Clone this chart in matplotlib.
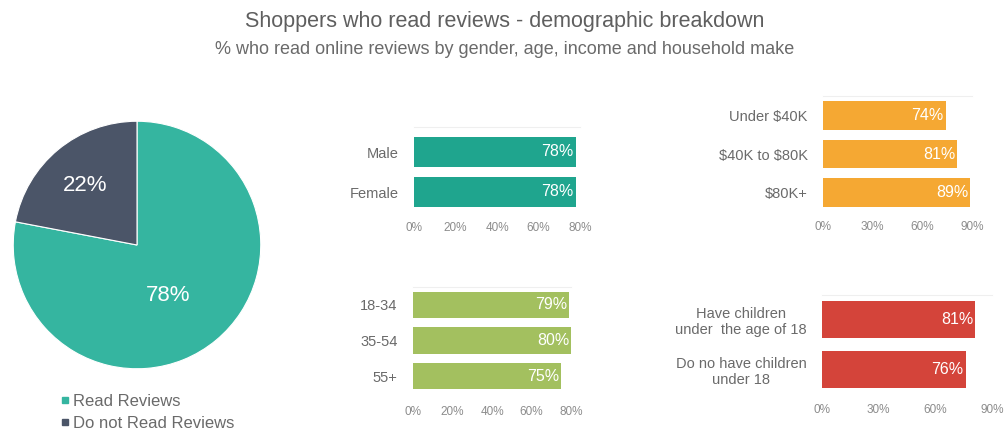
import matplotlib
matplotlib.use("Agg")
import matplotlib.pyplot as plt
from matplotlib.lines import Line2D
from matplotlib.ticker import PercentFormatter

plt.rcParams['font.family'] = ['Liberation Sans', 'DejaVu Sans']

# Data
pie_labels = ["Read Reviews", "Do not Read Reviews"]
pie_values = [78, 22]

gender = ["Male", "Female"]
gender_vals = [78, 78]

age = ["18-34", "35-54", "55+"]
age_vals = [79, 80, 75]

income = ["Under $40K", "$40K to $80K", "$80K+"]
income_vals = [74, 81, 89]

kids = ["Have children\nunder  the age of 18", "Do no have children\nunder 18"]
kids_vals = [81, 76]

W, H = 1005, 430
TXT = "#5f5f5f"
LBL = "#6a6a6a"
TICK = "#8c8c8c"

fig = plt.figure(figsize=(W / 100, H / 100), dpi=100)


def px_axes(left, top, right, bottom):
    return fig.add_axes([left / W, 1 - bottom / H, (right - left) / W, (bottom - top) / H])


fig.text(505 / W, 1 - 22 / H, "Shoppers who read reviews - demographic breakdown",
         ha="center", va="center", fontsize=15.5, color=TXT)
fig.text(505 / W, 1 - 49 / H, "% who read online reviews by gender, age, income and household make",
         ha="center", va="center", fontsize=13, color=LBL)

# pie
pie_colors = ["#35b5a0", "#4b5568"]
ax = px_axes(12, 120, 262, 370)
ax.pie(pie_values, colors=pie_colors, startangle=90, counterclock=False,
       wedgeprops=dict(edgecolor="white", linewidth=0.8))
ax.set_xlim(-1.01, 1.01)
ax.set_ylim(-1.01, 1.01)
ax.set_aspect("equal")
ax.text(-0.42, 0.48, f"{pie_values[1]}%", color="white", fontsize=16, ha="center", va="center")
ax.text(0.25, -0.41, f"{pie_values[0]}%", color="white", fontsize=16, ha="center", va="center")
handles = [Line2D([], [], marker="s", ls="", color=c, markersize=5) for c in pie_colors]
fig.legend(handles, pie_labels, loc="upper left", bbox_to_anchor=(54 / W, 1 - 387 / H),
           frameon=False, fontsize=12, handlelength=0.5, handletextpad=0.25,
           labelspacing=0.45, borderaxespad=0, labelcolor=LBL)


def bar_panel(box, cats, vals, color, xmax, step, height, pad, top=-0.5):
    a = px_axes(*box)
    y = list(range(len(cats)))
    a.barh(y, vals, height=height, color=color)
    for yi, v in zip(y, vals):
        a.text(v - 1, yi, f"{v}%", color="white", fontsize=11.5, ha="right", va="center")
    a.set_xlim(0, xmax)
    a.set_ylim(len(cats) - 0.5, top)
    a.set_xticks(range(0, xmax + 1, step))
    a.xaxis.set_major_formatter(PercentFormatter(decimals=0))
    a.set_yticks(y)
    # escape dollar signs so they are not read as mathtext
    a.set_yticklabels([c.replace("$", r"\$") for c in cats], multialignment="center")
    a.tick_params(axis="x", length=0, pad=pad, labelsize=8.5, labelcolor=TICK)
    a.tick_params(axis="y", length=0, pad=11, labelsize=10.5, labelcolor=LBL)
    for s in ["left", "right", "bottom"]:
        a.spines[s].set_visible(False)
    a.spines["top"].set_color("#efefef")
    return a


bar_panel((414, 127, 580, 212), gender, gender_vals, "#1fa58e", 80, 20, 0.75, 7, top=-0.625)
bar_panel((413, 287, 571, 394), age, age_vals, "#a3c05f", 80, 20, 0.73, 8.5)
bar_panel((823, 96, 972, 212), income, income_vals, "#f5a833", 90, 30, 0.74, 6.5)
bar_panel((822, 294.5, 992, 394.5), kids, kids_vals, "#d4443a", 90, 30, 0.74, 6.5)

fig.savefig("out.png", dpi=100, facecolor="white")
